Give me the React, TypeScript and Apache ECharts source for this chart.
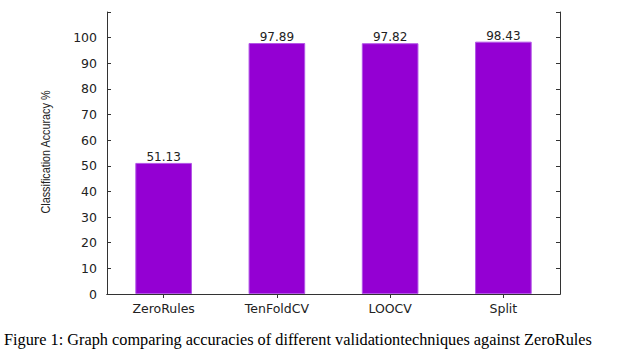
import React, { useEffect, useRef } from "react";
import * as echarts from "echarts";

const categories = ["ZeroRules", "TenFoldCV", "LOOCV", "Split"];
const accuracy = [51.13, 97.89, 97.82, 98.43];
const yMin = 0;
const yMax = 110;
const yStep = 10;
const yTitle = "Classification Accuracy %";
const caption =
  "Figure 1: Graph comparing accuracies of different validationtechniques against ZeroRules";

export default function App() {
  const ref = useRef<HTMLDivElement>(null);
  useEffect(() => {
    if (!ref.current) return;
    const chart = echarts.init(ref.current, null, { renderer: "svg" });
    const axisColor = "#333333";
    const labelFont = { fontFamily: "DejaVu Sans", fontSize: 12, color: "#222222" };
    chart.setOption({
      animation: false,
      backgroundColor: "#ffffff",
      grid: { left: 107, right: 67, top: 12, bottom: 62, containLabel: false },
      xAxis: [
        {
          type: "category",
          data: categories,
          position: "bottom",
          boundaryGap: true,
          axisLine: { show: true, lineStyle: { color: axisColor, width: 1 } },
          axisTick: { show: false },
          axisLabel: { ...labelFont, margin: 8, fontSize: 12.5 },
        },
        {
          type: "category",
          data: categories,
          position: "top",
          boundaryGap: true,
          axisLine: { show: true, lineStyle: { color: axisColor, width: 1 } },
          axisTick: { show: true, inside: true, alignWithLabel: true, length: 4, lineStyle: { color: axisColor } },
          axisLabel: { show: false },
        },
      ],
      yAxis: [
        {
          type: "value",
          min: yMin,
          max: yMax,
          interval: yStep,
          position: "left",
          axisLine: { show: true, lineStyle: { color: axisColor, width: 1 } },
          axisTick: { show: true, inside: true, length: 4, lineStyle: { color: axisColor } },
          axisLabel: {
            ...labelFont,
            fontSize: 12.5,
            margin: 10,
            formatter: (v: number) => (v > 100 ? "" : String(v)),
          },
          splitLine: { show: false },
        },
        {
          type: "value",
          min: yMin,
          max: yMax,
          interval: yStep,
          position: "right",
          axisLine: { show: true, lineStyle: { color: axisColor, width: 1 } },
          axisTick: { show: true, inside: true, length: 4, lineStyle: { color: axisColor } },
          axisLabel: { show: false },
          splitLine: { show: false },
        },
      ],
      series: [
        {
          type: "bar",
          data: accuracy,
          xAxisIndex: 0,
          yAxisIndex: 0,
          barWidth: "50%",
          itemStyle: { color: "#9400d3", borderColor: "#b255e6", borderWidth: 1 },
          label: {
            show: true,
            position: "top",
            distance: 0,
            ...labelFont,
            formatter: (p: any) => p.value.toFixed(2),
          },
        },
      ],
      graphic: [
        {
          type: "text",
          x: 46,
          y: 152,
          rotation: Math.PI / 2,
          scaleX: 0.8,
          style: {
            text: yTitle,
            font: "13.5px 'Liberation Sans', Arial, sans-serif",
            fill: "#222222",
            textAlign: "center",
            textVerticalAlign: "middle",
          },
        },
        {
          type: "text",
          left: 4,
          top: 331,
          style: {
            text: caption,
            font: "16.3px 'Liberation Serif', 'Times New Roman', serif",
            fill: "#000000",
          },
        },
      ],
    });
    return () => chart.dispose();
  }, []);
  return <div ref={ref} style={{ width: 627, height: 356, position: "fixed", left: 0, top: 0 }} />;
}
